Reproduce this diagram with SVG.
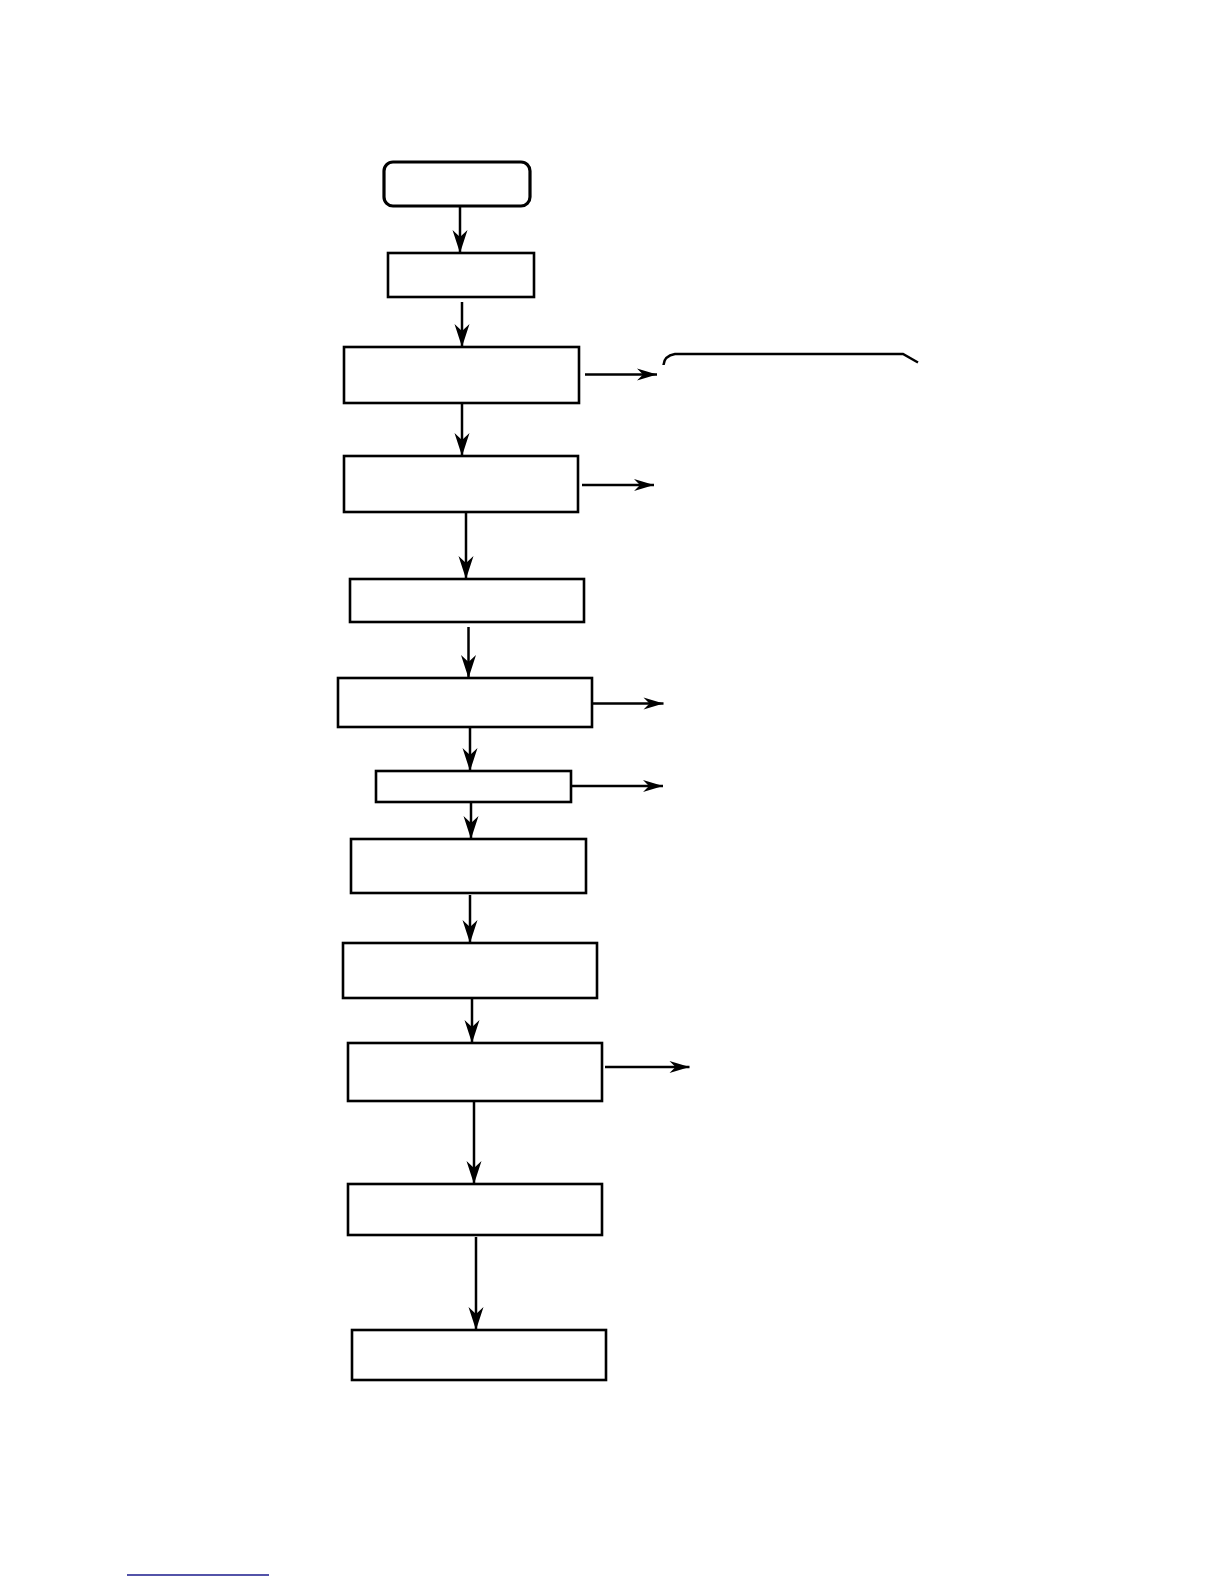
<svg xmlns="http://www.w3.org/2000/svg" width="1224" height="1584" viewBox="0 0 1224 1584">
<style>
.box{fill:#fff;stroke:#000;stroke-width:2.6}
.term{fill:#fff;stroke:#000;stroke-width:3.2}
.conn{fill:none;stroke:#000;stroke-width:2.5}
.connh{fill:none;stroke:#000;stroke-width:2.3}
</style>
<defs>
<marker id="av" markerUnits="userSpaceOnUse" markerWidth="30" markerHeight="20" viewBox="-24 -10 26 20" refX="0" refY="0" orient="auto">
<path d="M0,0 L-23,-7.5 L-16,0 L-23,7.5 Z" fill="#000"/>
</marker>
<marker id="ah" markerUnits="userSpaceOnUse" markerWidth="30" markerHeight="20" viewBox="-24 -10 26 20" refX="0" refY="0" orient="auto">
<path d="M0,0 L-20,-6 L-14,0 L-20,6 Z" fill="#000"/>
</marker>
</defs>
<rect width="1224" height="1584" fill="#fff"/>
<g id="start"><rect class="term" x="384" y="162" width="146" height="44" rx="9"/></g>
<g id="n1"><rect class="box" x="388" y="253" width="146" height="44"/></g>
<g id="n2"><rect class="box" x="344" y="347" width="235" height="56"/></g>
<g id="n3"><rect class="box" x="344" y="456" width="234" height="56"/></g>
<g id="n4"><rect class="box" x="350" y="579" width="234" height="43"/></g>
<g id="n5"><rect class="box" x="338" y="678" width="254" height="49"/></g>
<g id="n6"><rect class="box" x="376" y="771" width="195" height="31"/></g>
<g id="n7"><rect class="box" x="351" y="839" width="235" height="54"/></g>
<g id="n8"><rect class="box" x="343" y="943" width="254" height="55"/></g>
<g id="n9"><rect class="box" x="348" y="1043" width="254" height="58"/></g>
<g id="n10"><rect class="box" x="348" y="1184" width="254" height="51"/></g>
<g id="n11"><rect class="box" x="352" y="1330" width="254" height="50"/></g>
<g id="bracket"><path class="conn" d="M663.5,365 Q664,356 675,354 L903,354 L918,362.5"/></g>
<g id="connectors">
<path class="conn" d="M460,206 L460,253" marker-end="url(#av)"/>
<path class="conn" d="M462,302 L462,347" marker-end="url(#av)"/>
<path class="conn" d="M462,403 L462,456" marker-end="url(#av)"/>
<path class="conn" d="M466,512 L466,579" marker-end="url(#av)"/>
<path class="conn" d="M468.5,627 L468.5,678" marker-end="url(#av)"/>
<path class="conn" d="M470,727 L470,771" marker-end="url(#av)"/>
<path class="conn" d="M471,802 L471,839" marker-end="url(#av)"/>
<path class="conn" d="M470,895 L470,943" marker-end="url(#av)"/>
<path class="conn" d="M472,998 L472,1043" marker-end="url(#av)"/>
<path class="conn" d="M474,1101 L474,1184" marker-end="url(#av)"/>
<path class="conn" d="M476,1237 L476,1330" marker-end="url(#av)"/>
<path class="connh" d="M585,374.5 L657,374.5" marker-end="url(#ah)"/>
<path class="connh" d="M582,485 L654,485" marker-end="url(#ah)"/>
<path class="connh" d="M592,703.5 L663.5,703.5" marker-end="url(#ah)"/>
<path class="connh" d="M571,786 L663,786" marker-end="url(#ah)"/>
<path class="connh" d="M605,1067 L689.5,1067" marker-end="url(#ah)"/>
</g>
<line x1="127" y1="1575" x2="269" y2="1575" stroke="#1a1a8c" stroke-width="1.3"/>
</svg>
